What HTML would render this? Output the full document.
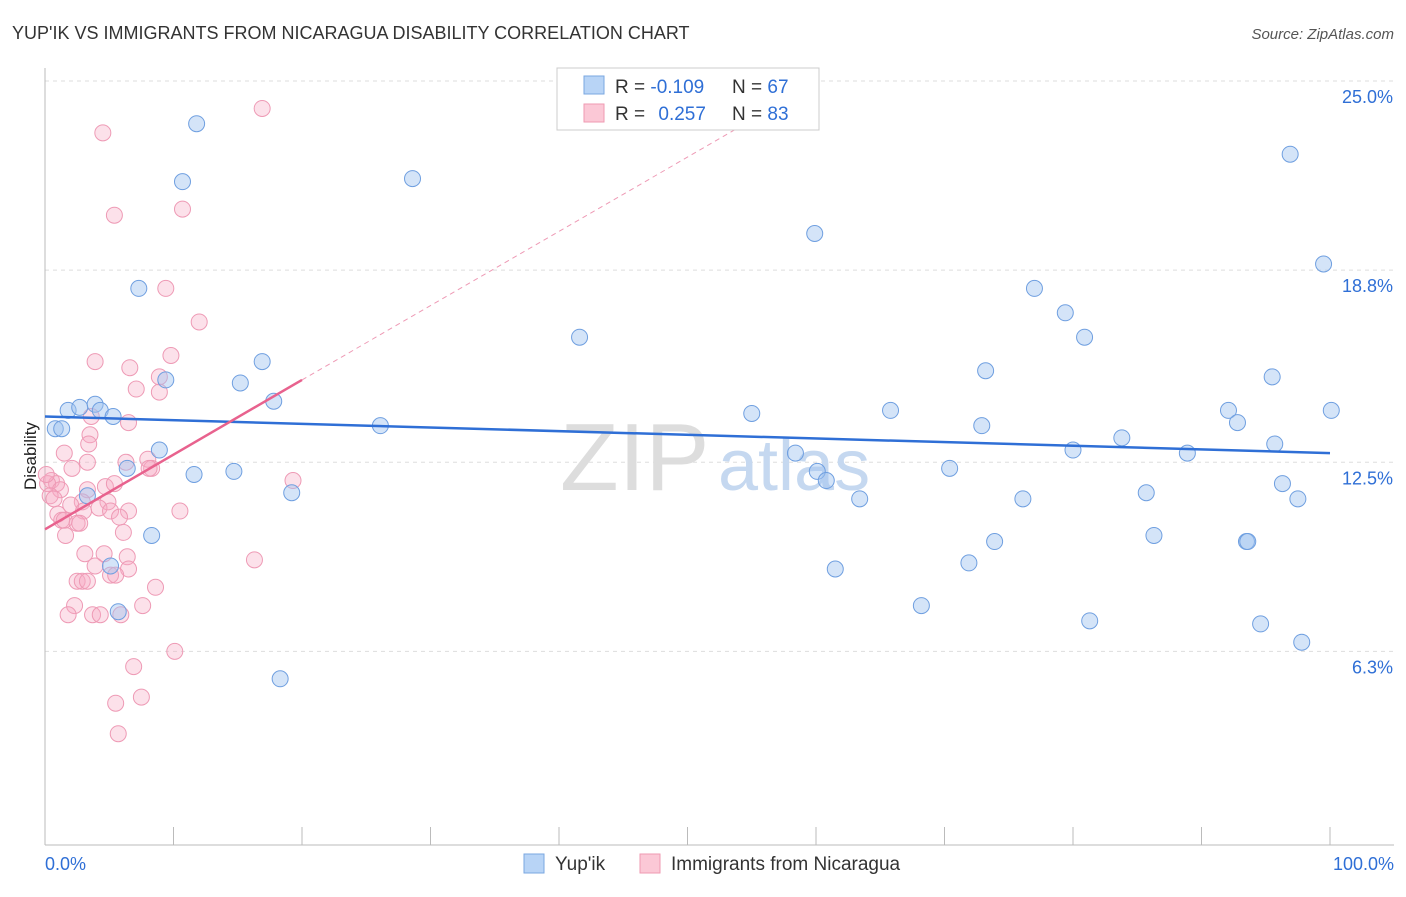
<!DOCTYPE html>
<html><head><meta charset="utf-8"><style>
body{margin:0;background:#fff;font-family:"Liberation Sans",sans-serif}
svg text{font-family:"Liberation Sans",sans-serif}
</style></head><body>
<svg width="1406" height="892" xmlns="http://www.w3.org/2000/svg">
<text x="12" y="39" font-size="18" fill="#333">YUP'IK VS IMMIGRANTS FROM NICARAGUA DISABILITY CORRELATION CHART</text>
<text x="1394" y="39" font-size="15" fill="#555" font-style="italic" text-anchor="end">Source: ZipAtlas.com</text>
<text x="36" y="456" font-size="17" fill="#222" transform="rotate(-90 36 456)" text-anchor="middle">Disability</text>
<g id="grid"></g>
<text x="560" y="490" font-size="96" fill="#ddd" font-family="Liberation Serif">ZIP</text>
<text x="718" y="490" font-size="72" fill="#c5d8f0">atlas</text>
<g id="pts"></g>
<g id="lines"></g>
<g>
<rect x="557" y="68" width="262" height="62" fill="#fff" stroke="#ccc"/>
<rect x="584" y="76" width="20" height="18" fill="#b8d4f6" stroke="#7aa7e0"/>
<rect x="584" y="104" width="20" height="18" fill="#fbc8d6" stroke="#ef9ab2"/>
<text x="615" y="93" font-size="19" fill="#333">R = <tspan fill="#2f6fd6">-0.109</tspan></text>
<text x="732" y="93" font-size="19" fill="#333">N = <tspan fill="#2f6fd6">67</tspan></text>
<text x="615" y="120" font-size="19" fill="#333">R =  <tspan fill="#2f6fd6" dx="8">0.257</tspan></text>
<text x="732" y="120" font-size="19" fill="#333">N = <tspan fill="#2f6fd6">83</tspan></text>
</g>
<g>
<rect x="524" y="854" width="20" height="19" fill="#b8d4f6" stroke="#7aa7e0"/>
<text x="555" y="870" font-size="19" fill="#333">Yup'ik</text>
<rect x="640" y="854" width="20" height="19" fill="#fbc8d6" stroke="#ef9ab2"/>
<text x="671" y="870" font-size="19" fill="#333">Immigrants from Nicaragua</text>
</g>
<text x="45" y="870" font-size="18" fill="#2f6fd6">0.0%</text>
<text x="1394" y="870" font-size="18" fill="#2f6fd6" text-anchor="end">100.0%</text>
</svg>
<script>
const yTicks=[25,18.8,12.5,6.3];
const yTickLabels=["25.0%","18.8%","12.5%","6.3%"];
const blueX=[11.8,10.7,28.6,7.3,9.4,15.2,16.9,17.8,3.9,1.8,2.7,4.3,5.3,0.8,1.3,8.9,6.4,11.6,14.7,3.3,19.2,8.3,5.1,5.7,18.3,26.1,41.6,50.0,55.0,59.9,58.4,60.1,60.8,63.4,61.5,65.8,68.2,70.4,71.9,72.9,73.2,73.9,76.1,77.0,79.4,80.0,80.9,81.3,83.8,85.7,86.3,88.9,92.1,92.8,93.5,93.6,94.6,95.5,95.7,96.3,96.9,97.5,97.8,99.5,100.1];
const blueY=[23.6,21.7,21.8,18.2,15.2,15.1,15.8,14.5,14.4,14.2,14.3,14.2,14.0,13.6,13.6,12.9,12.3,12.1,12.2,11.4,11.5,10.1,9.1,7.6,5.4,13.7,16.6,23.7,14.1,20.0,12.8,12.2,11.9,11.3,9.0,14.2,7.8,12.3,9.2,13.7,15.5,9.9,11.3,18.2,17.4,12.9,16.6,7.3,13.3,11.5,10.1,12.8,14.2,13.8,9.9,9.9,7.2,15.3,13.1,11.8,22.6,11.3,6.6,19.0,14.2];
const pinkX=[16.9,4.5,10.7,5.4,9.4,12.0,3.9,9.8,6.6,8.9,7.1,8.9,3.6,6.5,3.5,3.4,1.5,8.0,6.3,3.3,2.1,8.3,8.1,19.3,0.5,0.9,0.2,1.2,3.3,4.7,5.4,0.4,0.7,2.9,2.0,4.9,4.2,3.0,5.1,6.5,10.5,1.0,1.3,1.5,5.8,2.5,2.7,6.1,1.6,3.1,4.6,6.4,16.3,3.9,6.5,5.1,5.5,2.5,2.9,3.3,8.6,2.3,7.6,1.8,3.7,4.3,5.9,10.1,6.9,7.5,5.5,5.7,0.1];
const pinkY=[24.1,23.3,20.8,20.6,18.2,17.1,15.8,16.0,15.6,15.3,14.9,14.8,14.0,13.8,13.4,13.1,12.8,12.6,12.5,12.5,12.3,12.3,12.3,11.9,11.9,11.8,11.8,11.6,11.6,11.7,11.8,11.4,11.3,11.2,11.1,11.2,11.0,10.9,10.9,10.9,10.9,10.8,10.6,10.6,10.7,10.5,10.5,10.2,10.1,9.5,9.5,9.4,9.3,9.1,9.0,8.8,8.8,8.6,8.6,8.6,8.4,7.8,7.8,7.5,7.5,7.5,7.5,6.3,5.8,4.8,4.6,3.6,12.1];
const X=v=>45+v*12.85, Y=v=>81+(25-v)*30.5;
const NS="http://www.w3.org/2000/svg";
function mk(t,a,p){const e=document.createElementNS(NS,t);for(const k in a)e.setAttribute(k,a[k]);p.appendChild(e);return e;}
const g=document.getElementById('grid');
yTicks.forEach((t,i)=>{
 const l=mk('line',{x1:45,x2:1394,y1:Y(t),y2:Y(t),stroke:'#ddd','stroke-dasharray':'4,4'},g);
 
 
 const tx=mk('text',{x:1393,y:Y(t)+22,'font-size':18,fill:'#2f6fd6','text-anchor':'end'},g);
 tx.textContent=yTickLabels[i];
 
 
});
mk('line',{x1:45,x2:45,y1:68,y2:845,stroke:'#bbb'},g);
mk('line',{x1:45,x2:1394,y1:845,y2:845,stroke:'#bbb'},g);
for(let i=0;i<=10;i++){const t=mk('line',{x1:X(i*10),x2:X(i*10),y1:827,y2:845,stroke:'#bbb'},g);
 
 }
const p=document.getElementById('pts');
pinkX.forEach((v,i)=>{const c=mk('circle',{cx:X(v),cy:Y(pinkY[i]),r:8,fill:'rgba(246,170,195,0.35)',stroke:'#ee9ab5','stroke-width':1},p);
 
 });
blueX.forEach((v,i)=>{const c=mk('circle',{cx:X(v),cy:Y(blueY[i]),r:8,fill:'rgba(160,195,240,0.45)',stroke:'#6f9fe0','stroke-width':1},p);
 
 });
const L=document.getElementById('lines');
const bl=mk('line',{x1:X(0),y1:Y(14.0),x2:X(100),y2:Y(12.8),stroke:'#2f6fd6','stroke-width':2.5},L);


const pd=mk('line',{x1:X(20),y1:Y(15.2),x2:X(54.5),y2:Y(23.6),stroke:'#ee9ab5','stroke-width':1,'stroke-dasharray':'5,4'},L);


const pl=mk('line',{x1:X(0),y1:Y(10.3),x2:X(20),y2:Y(15.2),stroke:'#e8628e','stroke-width':2.5},L);


</script>
</body></html>
